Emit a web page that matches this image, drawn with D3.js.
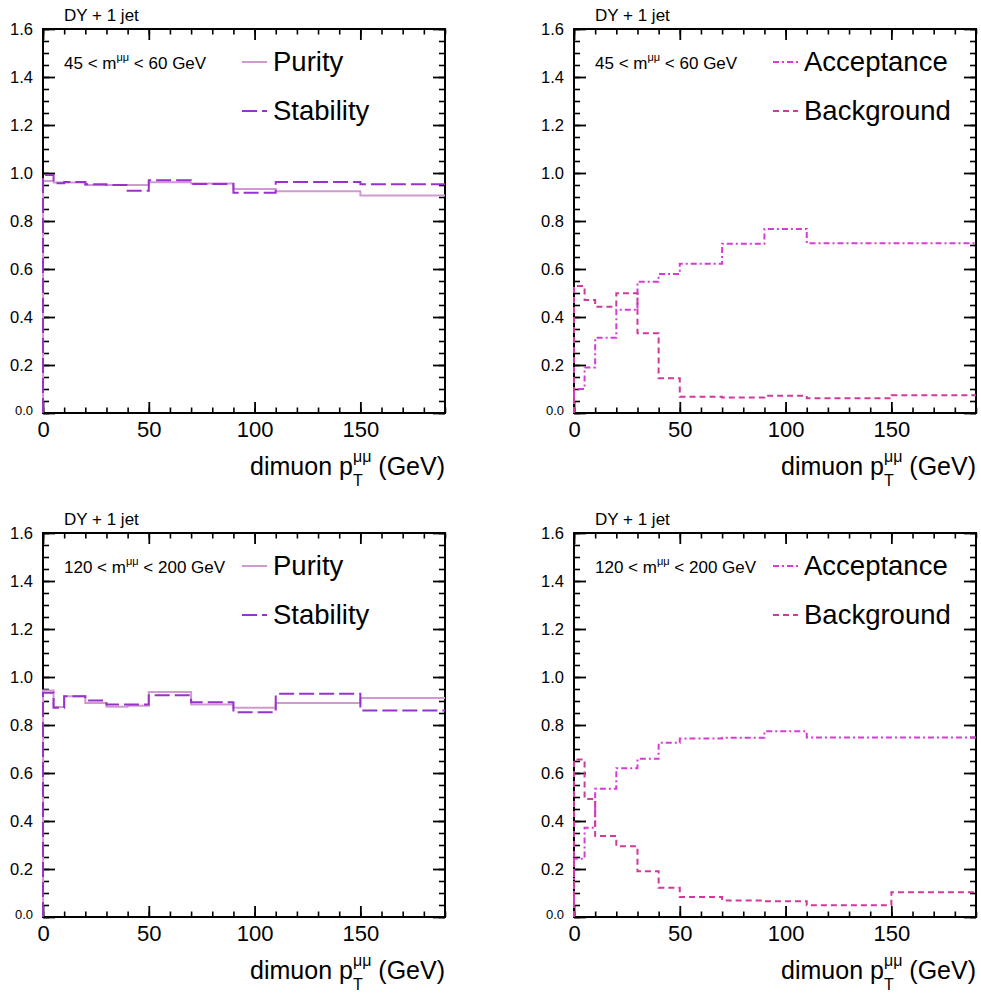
<!DOCTYPE html>
<html><head><meta charset="utf-8">
<script src="https://cdn.jsdelivr.net/npm/d3@7"></script>
<style>
body{margin:0;background:#fff}
text{font-family:"Liberation Sans",Arial,Helvetica,sans-serif;fill:#000}
</style>
</head><body>
<svg id="chart" width="981" height="996"></svg>
<script>
// Bin edges in dimuon pT (GeV)
const binEdges = [0, 5, 10, 20, 30, 40, 50, 70, 90, 110, 150, 190];

// 45 < m < 60 GeV
const purityLowMass     = [0.967, 0.960, 0.960, 0.950, 0.950, 0.950, 0.961, 0.956, 0.933, 0.924, 0.906];
const stabilityLowMass  = [0.992, 0.957, 0.962, 0.953, 0.950, 0.926, 0.970, 0.954, 0.918, 0.962, 0.953];
const acceptanceLowMass = [0.100, 0.190, 0.314, 0.430, 0.547, 0.579, 0.622, 0.705, 0.767, 0.707, 0.707];
const backgroundLowMass = [0.529, 0.471, 0.443, 0.499, 0.332, 0.145, 0.068, 0.065, 0.072, 0.061, 0.074];

// 120 < m < 200 GeV
const purityHighMass     = [0.944, 0.875, 0.920, 0.892, 0.876, 0.880, 0.937, 0.885, 0.872, 0.892, 0.913];
const stabilityHighMass  = [0.934, 0.872, 0.920, 0.902, 0.885, 0.885, 0.924, 0.895, 0.853, 0.930, 0.860];
const acceptanceHighMass = [0.243, 0.372, 0.534, 0.620, 0.659, 0.726, 0.744, 0.747, 0.774, 0.748, 0.748];
const backgroundHighMass = [0.656, 0.492, 0.337, 0.295, 0.191, 0.122, 0.083, 0.069, 0.066, 0.049, 0.103];

// Axis ticks
const xMajorTicks = [0, 50, 100, 150];
const xMinorTicks = [0, 10, 20, 30, 40, 50, 60, 70, 80, 90, 100, 110, 120, 130, 140, 150, 160, 170, 180, 190];
const yMajorTicks = [0.0, 0.2, 0.4, 0.6, 0.8, 1.0, 1.2, 1.4, 1.6];
const yMinorTicks = d3.range(0, 33).map(i => i * 0.05);

const processLabel = "DY + 1 jet";
const massLabels = [["45", "60"], ["120", "200"]];

const styles = {
  Purity:     {color: "#d09ad0", dash: null,      width: 2},
  Stability:  {color: "#9932cc", dash: "15,5",    width: 2},
  Acceptance: {color: "#d83ad8", dash: "6,3,2,3", width: 2},
  Background: {color: "#d03a9c", dash: "6,4",     width: 2}
};

const panels = [
  {left: 43,  top: 29,  mass: massLabels[0], series: [["Purity", purityLowMass], ["Stability", stabilityLowMass]]},
  {left: 574, top: 29,  mass: massLabels[0], series: [["Acceptance", acceptanceLowMass], ["Background", backgroundLowMass]]},
  {left: 43,  top: 533, mass: massLabels[1], series: [["Purity", purityHighMass], ["Stability", stabilityHighMass]]},
  {left: 574, top: 533, mass: massLabels[1], series: [["Acceptance", acceptanceHighMass], ["Background", backgroundHighMass]]}
];

const W = 402, H = 384;
const svg = d3.select("#chart");

function styleTicks(g, width) {
  g.select(".domain").remove();
  g.selectAll(".tick line").attr("stroke", "#000").attr("stroke-width", width);
}

panels.forEach(p => {
  const g = svg.append("g").attr("transform", `translate(${p.left},${p.top})`);
  const x = d3.scaleLinear().domain([0, 190]).range([0, W]);
  const y = d3.scaleLinear().domain([0, 1.6]).range([H, 0]);

  // minor ticks on all four sides
  g.append("g").attr("transform", `translate(0,${H})`)
    .call(d3.axisBottom(x).tickValues(xMinorTicks).tickSize(-5.5).tickFormat("")).call(styleTicks, 1.6);
  g.append("g")
    .call(d3.axisTop(x).tickValues(xMinorTicks).tickSize(-5.5).tickFormat("")).call(styleTicks, 1.6);
  g.append("g")
    .call(d3.axisLeft(y).tickValues(yMinorTicks).tickSize(-6).tickFormat("")).call(styleTicks, 1.6);
  g.append("g").attr("transform", `translate(${W},0)`)
    .call(d3.axisRight(y).tickValues(yMinorTicks).tickSize(-6).tickFormat("")).call(styleTicks, 1.6);

  // major ticks
  const xb = g.append("g").attr("transform", `translate(0,${H})`)
    .call(d3.axisBottom(x).tickValues(xMajorTicks).tickSize(-11).tickPadding(8).tickFormat(d3.format("d")))
    .call(styleTicks, 1.8);
  xb.selectAll("text").attr("font-size", 22).attr("fill", "#000").attr("font-family", null);
  g.append("g")
    .call(d3.axisTop(x).tickValues(xMajorTicks).tickSize(-11).tickFormat("")).call(styleTicks, 1.8);
  const yl = g.append("g")
    .call(d3.axisLeft(y).tickValues(yMajorTicks).tickSize(-12).tickPadding(10).tickFormat(d3.format(".1f")))
    .call(styleTicks, 1.8);
  yl.selectAll("text").attr("font-size", d => d === 0 ? 13 : 16.5).attr("fill", "#000").attr("font-family", null)
    .attr("dy", d => d === 0 ? "0.1em" : "0.32em");
  g.append("g").attr("transform", `translate(${W},0)`)
    .call(d3.axisRight(y).tickValues(yMajorTicks).tickSize(-12).tickFormat("")).call(styleTicks, 1.8);

  // frame
  g.append("rect").attr("width", W).attr("height", H)
    .attr("fill", "none").attr("stroke", "#000").attr("stroke-width", 2);

  // histograms drawn as steps starting from zero at the first edge
  const line = d3.line().x(d => x(d[0])).y(d => y(d[1])).curve(d3.curveStepAfter);
  p.series.forEach(([name, vals]) => {
    const pts = [[binEdges[0], 0]];
    vals.forEach((v, i) => pts.push([binEdges[i], v]));
    pts.push([binEdges[binEdges.length - 1], vals[vals.length - 1]]);
    const s = styles[name];
    g.append("path").datum(pts).attr("d", line)
      .attr("fill", "none").attr("stroke", s.color).attr("stroke-width", s.width)
      .attr("stroke-dasharray", s.dash);
  });

  // process label above the frame
  g.append("text").attr("x", 21).attr("y", -8).attr("font-size", 17).text(processLabel);

  // mass window label
  const m = g.append("text").attr("x", 21).attr("y", 40).attr("font-size", 17);
  m.append("tspan").text(`${p.mass[0]} < m`);
  m.append("tspan").attr("font-size", 11).attr("dy", -8).text("μμ");
  m.append("tspan").attr("dy", 8).text(` < ${p.mass[1]} GeV`);

  // legend
  p.series.forEach(([name], i) => {
    const s = styles[name];
    const ly = 33 + i * 49;
    g.append("line").attr("x1", 199).attr("x2", 224).attr("y1", ly).attr("y2", ly)
      .attr("stroke", s.color).attr("stroke-width", s.width).attr("stroke-dasharray", s.dash);
    g.append("text").attr("x", 230).attr("y", ly + 9).attr("font-size", 27.5).text(name);
  });

  // x axis title, right-aligned to the frame
  const t = g.append("text").attr("y", H + 62).attr("font-size", 25);
  t.append("tspan").text("dimuon p");
  const sup = t.append("tspan").attr("font-size", 16).attr("dy", -13).text("μμ");
  const supW = sup.node().getComputedTextLength();
  const sub = t.append("tspan").attr("font-size", 16).attr("dy", 24).attr("dx", -supW).text("T");
  const subW = sub.node().getComputedTextLength();
  t.append("tspan").attr("dy", -11).attr("dx", supW - subW).text(" (GeV)");
  const bw = t.node().getBBox().width;
  t.attr("x", W - bw);
});
</script>
</body></html>
